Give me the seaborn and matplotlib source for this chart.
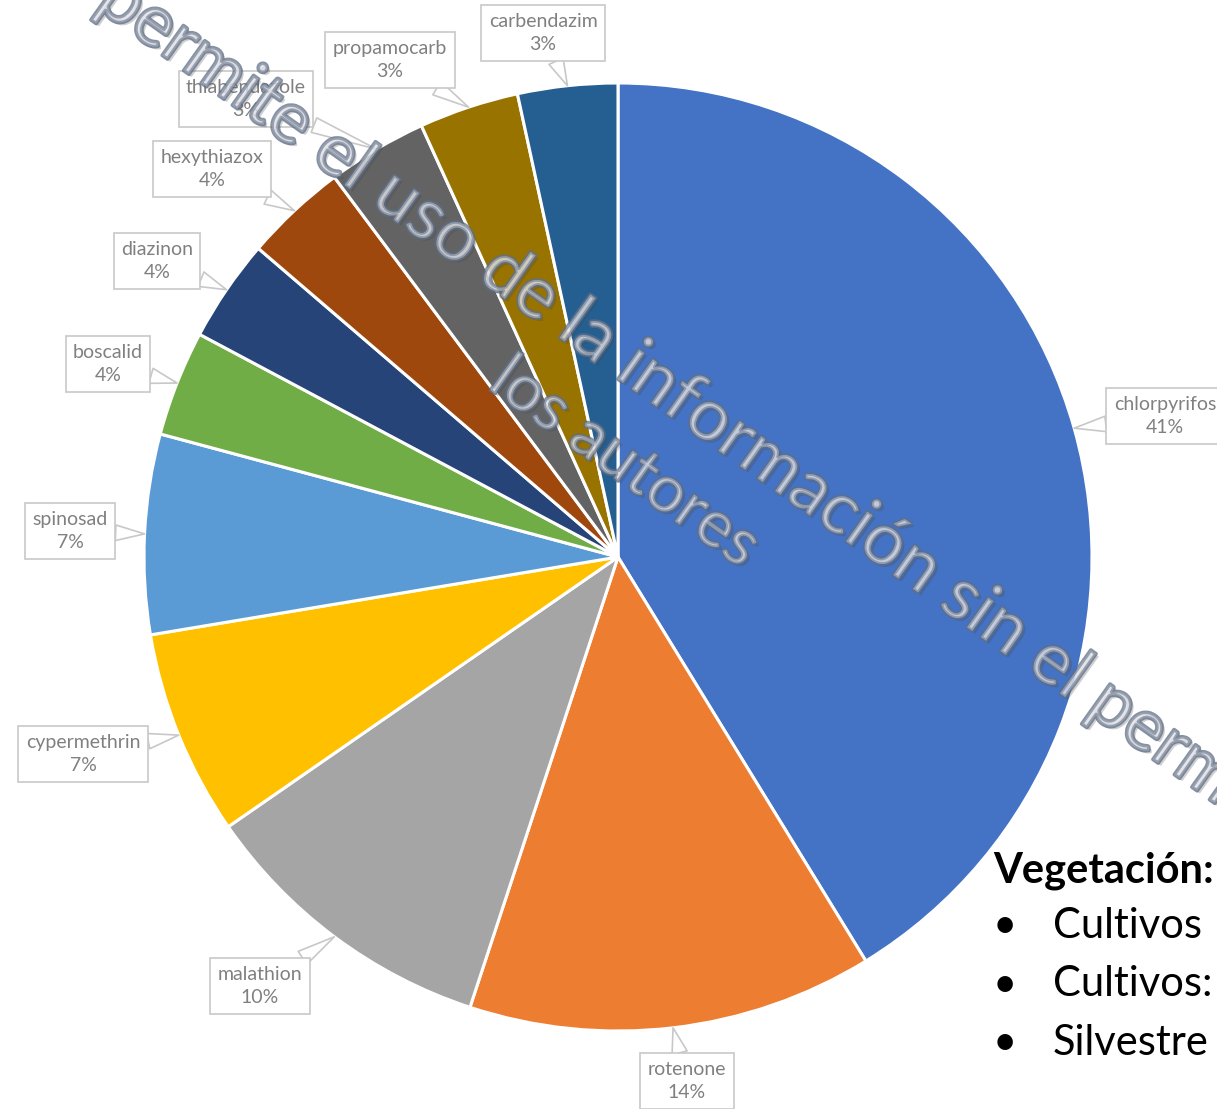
import matplotlib
matplotlib.use("Agg")
import matplotlib.pyplot as plt
import matplotlib.patheffects as pe
import numpy as np
import seaborn as sns

# ---------------- data ----------------
pesticides = ["chlorpyrifos", "rotenone", "malathion", "cypermethrin", "spinosad",
              "boscalid", "diazinon", "hexythiazox", "thiabendazole", "propamocarb",
              "carbendazim"]
shares = [41.2, 13.8, 10.3, 7.0, 6.8, 3.6, 3.5, 3.5, 3.4, 3.4, 3.4]
pct_labels = ["41%", "14%", "10%", "7%", "7%", "4%", "4%", "4%", "3%", "3%", "3%"]
colors = ["#4472C4", "#ED7D31", "#A5A5A5", "#FFC000", "#5B9BD5", "#70AD47",
          "#264478", "#9E480E", "#636363", "#997300", "#255E91"]

watermark_lines = ["No se permite el uso de la información sin el permiso de",
                   "los autores"]
veg_title = "Vegetación:"
veg_items = ["Cultivos", "Cultivos:", "Silvestre"]

# ---------------- layout (pixels, image coords) ----------------
W, H = 1217, 1109
box_centers = [(1165, 416), (687, 1081), (260, 986), (83, 754), (70, 531),
               (108, 364), (157, 261), (212, 169), (246, 99), (390, 60), (543, 33)]

sns.set_theme(style="white")
plt.rcParams['font.family'] = ['Lato', 'DejaVu Sans']

fig = plt.figure(figsize=(W / 100, H / 100), dpi=100)
ax = fig.add_axes([0, 0, 1, 1])


def Y(y):
    return H - y


cx, cy, r = 618, 557, 474
wedges, _ = ax.pie(shares, colors=colors, startangle=90, counterclock=False,
                   center=(cx, Y(cy)), radius=r, frame=True,
                   wedgeprops=dict(edgecolor='white', linewidth=2.2))
ax.set_xlim(0, W)
ax.set_ylim(0, H)
ax.set_aspect('equal')
ax.axis('off')

for w, name, pct, (bx, by) in zip(wedges, pesticides, pct_labels, box_centers):
    mid = np.deg2rad((w.theta1 + w.theta2) / 2)
    pt = (w.center[0] + w.r * np.cos(mid), w.center[1] + w.r * np.sin(mid))
    ax.annotate(f"{name}\n{pct}", xy=pt, xytext=(bx, Y(by)),
                ha='center', va='center', fontsize=14, color='#808080',
                linespacing=1.45, zorder=5,
                bbox=dict(boxstyle='square,pad=0.38', fc='white', ec='#c8c8c8', lw=1.2),
                arrowprops=dict(arrowstyle='wedge,tail_width=0.8,shrink_factor=0.5',
                                fc='white', ec='#c8c8c8', lw=1.2,
                                shrinkA=0, shrinkB=0))

# watermark
wm_effects = [pe.SimplePatchShadow(offset=(2, -2), alpha=0.25),
              pe.Stroke(linewidth=2.6, foreground='#5f6f86', alpha=0.75),
              pe.Normal()]
wm_pos = [(650, 402), (614, 478)]
wm_sizes = [52, 47]
for txt, (x, y), fs in zip(watermark_lines, wm_pos, wm_sizes):
    ax.text(x, Y(y), txt, fontsize=fs, rotation=-35.4, rotation_mode='anchor',
            ha='center', va='baseline', color=(0.88, 0.88, 0.9, 0.25),
            path_effects=wm_effects, zorder=10)

# side text
ax.text(993, Y(882), veg_title, fontsize=30, fontweight='bold', color='black',
        ha='left', va='baseline', zorder=6)
for i, item in enumerate(veg_items):
    yb = 938 + i * 58.5
    ax.text(993, Y(yb), "•", fontsize=30, color='black', ha='left', va='baseline', zorder=6)
    ax.text(1053, Y(yb), item, fontsize=30, color='black', ha='left', va='baseline', zorder=6)

fig.savefig("out.png", dpi=100)
